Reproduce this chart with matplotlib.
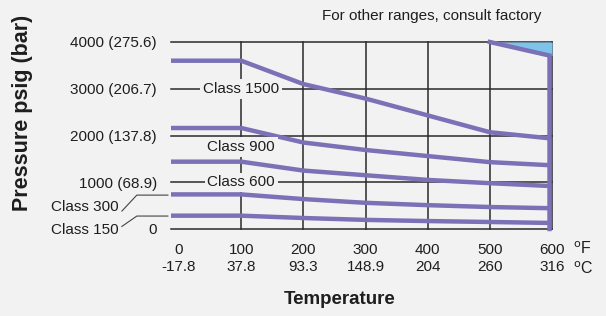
import numpy as np
import matplotlib.pyplot as plt

plt.rcParams['font.family'] = ['Liberation Sans', 'DejaVu Sans']

# -----------------------------
# DATA (psig vs temperature in degF)
# -----------------------------
temps_f = [0, 100, 200, 300, 400, 500, 600]
temps_c = ["-17.8", "37.8", "93.3", "148.9", "204", "260", "316"]

class_1500 = [3600, 3600, 3100, 2790, 2430, 2070, 1940]
class_900 = [2160, 2160, 1850, 1690, 1560, 1430, 1365]
class_600 = [1440, 1440, 1250, 1150, 1050, 980, 920]
class_300 = [740, 740, 640, 560, 510, 470, 445]
class_150 = [285, 285, 235, 195, 170, 150, 130]

pressure_ticks = [0, 1000, 2000, 3000, 4000]
pressure_labels = ["0", "1000 (68.9)", "2000 (137.8)", "3000 (206.7)", "4000 (275.6)"]

# upper limit edge (consult factory region)
limit_f = [500, 600]
limit_p = [4000, 3710]

bg = '#f2f2f2'
purple = '#7b71b7'
blue = '#7ec3ea'
grid_c = '#2a2a2a'
txt_c = '#1e1e1e'

fig = plt.figure(figsize=(6.06, 3.16), dpi=100, facecolor=bg)
ax = fig.add_axes([171/606, 1 - 229/316, 381/606, 187/316])
ax.set_facecolor(bg)
ax.set_xlim(-13, 600)
ax.set_ylim(0, 4000)
for s in ax.spines.values():
    s.set_visible(False)

# grid
for p in pressure_ticks:
    ax.plot([-13, 600], [p, p], color=grid_c, lw=1.1, zorder=1, clip_on=False)
for t in temps_f[1:]:
    ax.plot([t, t], [0, 4000], color=grid_c, lw=1.1, zorder=1, clip_on=False)

# consult-factory region
ax.fill_between(limit_f, limit_p, [4000, 4000], color=blue, zorder=2, lw=0)

# curves
for vals in [class_1500, class_900, class_600, class_300, class_150]:
    x = [-13] + temps_f[:-1] + [596]
    y = [vals[0]] + vals
    ax.plot(x, y, color=purple, lw=3.2, solid_capstyle='butt', zorder=3, clip_on=False)
ax.plot([596, 596, limit_f[0]], [0, limit_p[1], limit_p[0]], color=purple, lw=3.2,
        solid_joinstyle='miter', zorder=3, clip_on=False)

# class labels on the chart
box = dict(facecolor=bg, edgecolor='none', pad=2)
ax.text(100, 3000, "Class 1500", ha='center', va='center', fontsize=11, color=txt_c,
        bbox=box, zorder=4)
ax.text(100, 1750, "Class 900", ha='center', va='center', fontsize=11, color=txt_c,
        bbox=box, zorder=4)
ax.text(100, 1000, "Class 600", ha='center', va='center', fontsize=11, color=txt_c,
        bbox=box, zorder=4)

# leader labels for 300 / 150
ax.plot([-92, -68, -18], [384, 725, 725], color='#444444', lw=0.8, clip_on=False)
ax.plot([-92, -68, -18], [55, 277, 277], color='#444444', lw=0.8, clip_on=False)
ax.text(-98, 470, "Class 300", ha='right', va='center', fontsize=11, color=txt_c,
        clip_on=False)
ax.text(-98, -25, "Class 150", ha='right', va='center', fontsize=11, color=txt_c,
        clip_on=False)

# ticks
ax.set_yticks(pressure_ticks)
ax.set_yticklabels(pressure_labels, fontsize=11)
ax.set_xticks(temps_f)
ax.set_xticklabels([f"{f}\n{c}" for f, c in zip(temps_f, temps_c)], fontsize=11,
                   linespacing=1.3)
ax.tick_params(length=0, pad=10, colors=txt_c)

fig.text(573/606, 1 - 249/316, "$^{\\rm o}$F", fontsize=11.5, va='center', color=txt_c)
fig.text(573/606, 1 - 269/316, "$^{\\rm o}$C", fontsize=11.5, va='center', color=txt_c)

fig.text(23/606, 1 - 113/316, "Pressure psig (bar)", rotation=90, fontsize=15.5,
         fontweight='bold', ha='center', va='center', color=txt_c)
fig.text(340/606, 1 - 300/316, "Temperature", fontsize=13.5, fontweight='bold',
         ha='center', va='center', color=txt_c)
fig.text(432/606, 1 - 16/316, "For other ranges, consult factory", fontsize=11,
         ha='center', va='center', color=txt_c)

plt.savefig("out.png", dpi=100, facecolor=bg)
